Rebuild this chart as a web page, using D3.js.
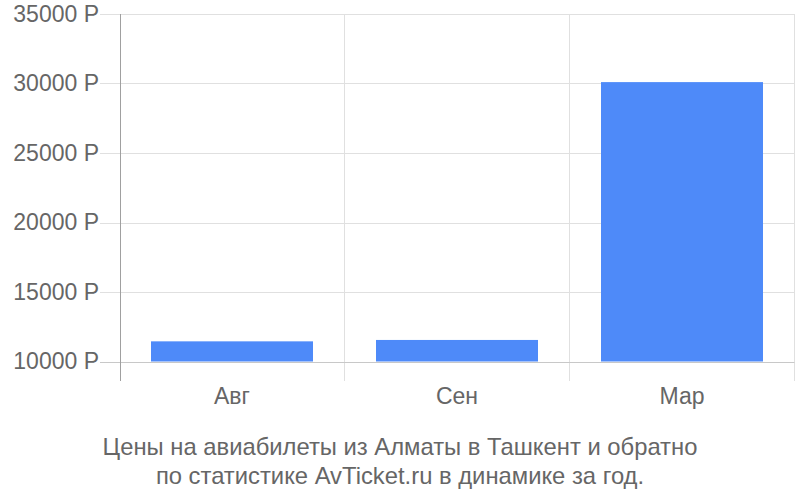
<!DOCTYPE html>
<html>
  <head>
    <meta charset="utf-8">
    <script src="https://d3js.org/d3.v7.min.js"></script>
    <style>
      body { margin: 0; background: #fff; font-family: "Liberation Sans", Arial, sans-serif; }
      .grid line { stroke: #e0e0e0; stroke-width: 1px; }
      .tick text { fill: #666; }
      .caption { fill: #666; font-size: 23.8px; }
    </style>
  </head>
  <body>
    <div id="chart"></div>
    <script>
      // data
      var months = ["Авг", "Сен", "Мар"];
      var prices = [11450, 11550, 30100];
      var yTicks = [10000, 15000, 20000, 25000, 30000, 35000];
      var captionLines = [
        "Цены на авиабилеты из Алматы в Ташкент и обратно",
        "по статистике AvTicket.ru в динамике за год."
      ];

      var width = 800, height = 500;
      var plotLeft = 119.5, plotRight = 794.5, plotTop = 14, plotBottom = 361.5;

      var svg = d3.select("#chart").append("svg")
        .attr("width", width)
        .attr("height", height);

      var x = d3.scaleBand().domain(months).range([plotLeft, plotRight])
        .paddingInner(0.28).paddingOuter(0.14);
      var y = d3.scaleLinear().domain([10000, 35000]).range([plotBottom, plotTop]);
      var step = x.step();

      // horizontal grid lines (with the little stub left of the axis)
      var grid = svg.append("g").attr("class", "grid");
      grid.selectAll("line.h").data(yTicks.slice(1)).enter().append("line")
        .attr("class", "h")
        .attr("x1", 100).attr("x2", plotRight)
        .attr("y1", function(d) { return Math.round(y(d)) + 0.5; })
        .attr("y2", function(d) { return Math.round(y(d)) + 0.5; });

      // vertical grid lines at band boundaries
      function bandEnd(d) { return Math.round(x(d) - x.paddingOuter() * step + step) - 0.5; }
      grid.selectAll("line.v").data(months).enter().append("line")
        .attr("class", "v")
        .attr("x1", bandEnd).attr("x2", bandEnd)
        .attr("y1", plotTop).attr("y2", 381);

      // bars
      svg.append("g").selectAll("rect").data(prices).enter().append("rect")
        .attr("x", function(d, i) { return x(months[i]); })
        .attr("width", x.bandwidth())
        .attr("y", function(d) { return y(d); })
        .attr("height", function(d) { return plotBottom - y(d); })
        .attr("fill", "#4e8af9");

      // baseline at 10000
      svg.append("line")
        .attr("x1", 100).attr("x2", plotRight)
        .attr("y1", Math.round(plotBottom) + 0.5).attr("y2", Math.round(plotBottom) + 0.5)
        .attr("stroke", "#c8c8c8");

      // y axis line
      svg.append("line")
        .attr("x1", 120.5).attr("x2", 120.5)
        .attr("y1", plotTop).attr("y2", 381)
        .attr("stroke", "#a0a0a0");

      // y axis labels
      var yAxis = d3.axisLeft(y).tickValues(yTicks)
        .tickSize(0).tickPadding(0)
        .tickFormat(function(d) { return d + "\u00A0Р"; });
      svg.append("g")
        .attr("transform", "translate(99,0)")
        .call(yAxis)
        .call(function(g) { g.select(".domain").remove(); })
        .selectAll("text")
        .attr("font-family", "Liberation Sans, Arial, sans-serif")
        .attr("font-size", 23);

      // x axis labels
      var xAxis = d3.axisBottom(x).tickSize(0).tickPadding(0);
      svg.append("g")
        .attr("transform", "translate(0,388)")
        .call(xAxis)
        .call(function(g) { g.select(".domain").remove(); })
        .selectAll("text")
        .attr("font-family", "Liberation Sans, Arial, sans-serif")
        .attr("font-size", 23);

      // caption
      svg.append("g").selectAll("text").data(captionLines).enter().append("text")
        .attr("class", "caption")
        .attr("x", 400)
        .attr("y", function(d, i) { return 455 + i * 29; })
        .attr("text-anchor", "middle")
        .text(function(d) { return d; });
    </script>
  </body>
</html>
